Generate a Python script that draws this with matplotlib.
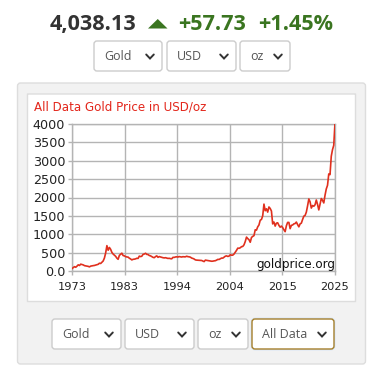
import numpy as np
import matplotlib
matplotlib.use("Agg")
import matplotlib.pyplot as plt
from matplotlib.patches import FancyBboxPatch, Polygon

# ---------------- data ----------------
price_text = "4,038.13"
change_text = "+57.73"
pct_text = "+1.45%"
chart_title = "All Data Gold Price in USD/oz"
watermark = "goldprice.org"
top_selects = ["Gold", "USD", "oz"]
bottom_selects = ["Gold", "USD", "oz", "All Data"]

x_tick_labels = ["1973", "1983", "1994", "2004", "2015", "2025"]
y_ticks = [0, 500, 1000, 1500, 2000, 2500, 3000, 3500, 4000]
y_tick_labels = ["0.0", "500", "1000", "1500", "2000", "2500", "3000", "3500", "4000"]

# approximate quarterly gold prices (USD/oz), 1973 .. 2025
gold_prices = [
    66, 92, 118, 102,      # 1973
    132, 168, 150, 186,    # 1974
    176, 166, 146, 139,    # 1975
    131, 126, 112, 133,    # 1976
    141, 146, 151, 162,    # 1977
    176, 182, 212, 204,    # 1978
    236, 272, 352, 490,    # 1979
    690, 565, 640, 590,    # 1980
    505, 462, 430, 400,    # 1981
    350, 318, 425, 455,    # 1982
    485, 420, 412, 392,    # 1983
    382, 378, 348, 328,    # 1984
    302, 318, 322, 330,    # 1985
    346, 342, 405, 392,    # 1986
    402, 452, 462, 482,    # 1987
    452, 448, 422, 412,    # 1988
    392, 372, 362, 392,    # 1989
    412, 372, 392, 382,    # 1990
    372, 362, 356, 362,    # 1991
    352, 342, 346, 336,    # 1992
    332, 372, 370, 382,    # 1993
    386, 380, 392, 386,    # 1994
    380, 390, 386, 386,    # 1995
    402, 390, 386, 376,    # 1996
    352, 342, 326, 302,    # 1997
    296, 294, 290, 292,    # 1998
    286, 272, 256, 296,    # 1999
    290, 282, 276, 270,    # 2000
    266, 268, 276, 280,    # 2001
    296, 316, 314, 332,    # 2002
    352, 350, 376, 402,    # 2003
    412, 396, 406, 442,    # 2004
    430, 432, 462, 512,    # 2005
    562, 622, 618, 632,    # 2006
    662, 668, 712, 802,    # 2007
    922, 882, 852, 782,    # 2008
    912, 942, 962, 1122,   # 2009
    1112, 1202, 1252, 1382,  # 2010
    1402, 1502, 1820, 1640,  # 2011
    1692, 1602, 1742, 1702,  # 2012
    1632, 1282, 1332, 1222,  # 2013
    1302, 1312, 1242, 1192,  # 2014
    1222, 1182, 1122, 1070,  # 2015
    1232, 1322, 1322, 1152,  # 2016
    1242, 1252, 1282, 1292,  # 2017
    1332, 1262, 1202, 1282,  # 2018
    1302, 1402, 1492, 1512,  # 2019
    1602, 1772, 1960, 1882,  # 2020
    1712, 1782, 1762, 1802,  # 2021
    1932, 1812, 1662, 1812,  # 2022
    1972, 1922, 1852, 2062,  # 2023
    2232, 2332, 2642, 2622,  # 2024
    3122, 3302, 3420, 4038,  # 2025
]
start_year = 1973
end_year = 2025

# ---------------- figure ----------------
W, H = 380, 379
fig = plt.figure(figsize=(W / 100, H / 100), dpi=100)
fig.patch.set_facecolor("white")

bg = fig.add_axes([0, 0, 1, 1])
bg.set_xlim(0, W)
bg.set_ylim(H, 0)
bg.axis("off")


def box(x0, y0, x1, y1, fc, ec, lw=1.0, r=3, z=1):
    p = FancyBboxPatch((x0, y0), x1 - x0, y1 - y0,
                       boxstyle=f"round,pad=0,rounding_size={r}",
                       fc=fc, ec=ec, lw=lw, zorder=z)
    bg.add_patch(p)


def chevron(cx, cy, z=5):
    bg.plot([cx - 3.8, cx, cx + 3.8], [cy - 2.0, cy + 2.0, cy - 2.0],
            color="#333333", lw=1.4, solid_capstyle="round",
            solid_joinstyle="miter", zorder=z)


def select(x0, y0, x1, y1, label, ec="#cccccc", glow=False):
    if glow:
        box(x0 - 1.5, y0 - 1.5, x1 + 1.5, y1 + 1.5, "#dbe8f7", "none", r=5, z=2)
    box(x0, y0, x1, y1, "white", ec, lw=1.0, r=3, z=3)
    bg.text(x0 + 10, (y0 + y1) / 2 + 0.5, label, fontsize=9.0, color="#555555",
            family="Open Sans", ha="left", va="center", zorder=5)
    chevron(x1 - 12, (y0 + y1) / 2 + 0.5)


# header
hy = 24.5
bg.text(50, hy, price_text, fontsize=15.6, fontweight="bold", color="#333333",
        family="Open Sans", ha="left", va="center")
bg.add_patch(Polygon([[148, 28.5], [167.5, 28.5], [157.75, 19]], closed=True,
                     fc="#3a7520", ec="none"))
bg.text(178, hy, change_text, fontsize=15.6, fontweight="bold", color="#3a7520",
        family="Open Sans", ha="left", va="center")
bg.text(258, hy, pct_text, fontsize=15.6, fontweight="bold", color="#3a7520",
        family="Open Sans", ha="left", va="center")

top_pos = [(94, 162), (167, 236), (240, 290)]
for (x0, x1), lab in zip(top_pos, top_selects):
    select(x0, 41, x1, 71, lab)

# panel and inner chart box
box(17.5, 83, 365.5, 364, "#f2f2f2", "#dddddd", lw=1.0, r=3, z=0)
box(27.5, 94, 355.5, 301.5, "white", "#dddddd", lw=1.0, r=0.1, z=1)

bg.text(34, 107, chart_title, fontsize=8.6, color="#e3261b",
        family="DejaVu Sans", ha="left", va="center", zorder=4)

bot_pos = [(52, 121), (125, 194), (198, 248), (252, 334)]
for i, ((x0, x1), lab) in enumerate(zip(bot_pos, bottom_selects)):
    if i == 3:
        select(x0, 319, x1, 349, lab, ec="#a57f2a", glow=True)
    else:
        select(x0, 319, x1, 349, lab)

# ---------------- chart ----------------
L, R, T, B = 72, 335, 124, 271
ax = fig.add_axes([L / W, 1 - B / H, (R - L) / W, (B - T) / H])
ax.set_zorder(5)
ax.patch.set_alpha(0)

years = np.linspace(start_year, end_year, len(gold_prices))
ax.plot(years, gold_prices, color="#e0301e", lw=1.2, zorder=3)

ax.set_xlim(start_year, end_year)
ax.set_ylim(0, 4000)
ax.set_xticks(np.linspace(start_year, end_year, len(x_tick_labels)))
ax.set_xticklabels(x_tick_labels, fontsize=8.2, family="DejaVu Sans")
ax.set_yticks(y_ticks)
ax.set_yticklabels(y_tick_labels, fontsize=9.2, family="DejaVu Sans")
ax.grid(True, color="#b4b4b4", lw=1.0)
ax.set_axisbelow(True)
for s in ax.spines.values():
    s.set_color("#b4b4b4")
    s.set_linewidth(1.0)
ax.tick_params(axis="both", colors="#b4b4b4", labelcolor="#222222", length=3,
               width=1.0, pad=2)
ax.tick_params(axis="x", pad=5)

ax.text(1.0, 0.0, watermark, transform=ax.transAxes, fontsize=8.6,
        color="#111111", family="DejaVu Sans", ha="right", va="bottom", zorder=4)

fig.savefig("out.png", dpi=100, facecolor="white")
